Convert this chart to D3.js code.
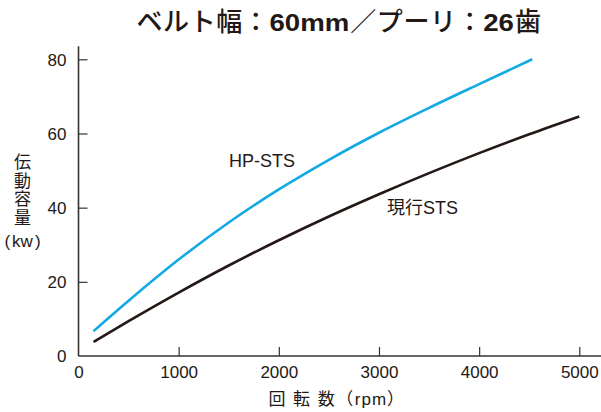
<!DOCTYPE html>
<html>
<head>
<meta charset="utf-8">
<script src="https://cdn.jsdelivr.net/npm/d3@7.9.0/dist/d3.min.js"></script>
<style>
  body { margin: 0; background: #fff; }
  svg { display: block; font-family: "Liberation Sans", Arial, "Noto Sans CJK JP", sans-serif; }
</style>
</head>
<body>
<svg width="601" height="412"></svg>
<script>
// data
const hpRpm = [150, 500, 1000, 1500, 2000, 2500, 3000, 3500, 4000, 4530];
const hpKw = [6.7, 14.9, 26.0, 36.0, 44.9, 52.9, 60.2, 66.9, 73.3, 80.0];
const stsRpm = [150, 500, 1000, 1500, 2000, 2500, 3000, 3500, 4000, 4500, 5000];
const stsKw = [3.8, 9.4, 17.1, 24.4, 31.2, 37.6, 43.6, 49.3, 54.7, 59.8, 64.6];
const xTicks = [0, 1000, 2000, 3000, 4000, 5000];
const yTicks = [0, 20, 40, 60, 80];

const svg = d3.select("svg");
const ink = "#231815";
const axisColor = "#333";

const x = d3.scaleLinear().domain([0, 5000]).range([78.5, 579.3]);
const y = d3.scaleLinear().domain([0, 80]).range([356, 59.3]);

// Title: japanese runs plus slightly widened digits, as in the print
const titleRuns = [
  { t: "ベルト幅：", jp: true },
  { t: "60mm", jp: false },
  { t: "／プーリ：", jp: true },
  { t: "26", jp: false },
  { t: "歯", jp: true },
];
const titleG = svg.append("g");
let cx = 0;
titleRuns.forEach((r) => {
  const sx = r.jp ? 1 : 1.15;
  const t = titleG.append("text")
    .attr("y", 31)
    .attr("fill", ink)
    .attr("font-family", r.jp ? "Noto Sans CJK JP" : "Liberation Sans")
    .attr("font-weight", r.jp ? 500 : "bold")
    .attr("font-size", r.jp ? "26px" : "24px")
    .attr("letter-spacing", r.jp ? "0.6px" : "0px")
    .attr("transform", `scale(${sx},1)`)
    .attr("x", cx / sx)
    .text(r.t);
  cx += t.node().getComputedTextLength() * sx + (r.jp ? 0 : 1);
});
titleG.attr("transform", `translate(${339 - cx / 2},0)`);

// Axes
const xAxis = svg.append("g")
  .attr("transform", `translate(0,${y(0)})`)
  .call(d3.axisBottom(x).tickValues(xTicks).tickFormat(d3.format("d"))
    .tickSize(-9).tickPadding(10).tickSizeOuter(0));
const yAxis = svg.append("g")
  .attr("transform", `translate(${x(0)},0)`)
  .call(d3.axisLeft(y).tickValues(yTicks).tickFormat(d3.format("d"))
    .tickSize(-9).tickPadding(12).tickSizeOuter(0));

[xAxis, yAxis].forEach((g) => {
  g.select(".domain").remove();
  g.selectAll(".tick line").attr("stroke", axisColor).attr("stroke-width", 1.2);
  g.selectAll(".tick text")
    .attr("fill", ink)
    .attr("font-size", "17px")
    .attr("font-family", "Liberation Sans, Arial, sans-serif");
});
// no inner tick at the origin
xAxis.selectAll(".tick").filter((d) => d === 0).select("line").remove();
yAxis.selectAll(".tick").filter((d) => d === 0).select("line").remove();
yAxis.selectAll(".tick text").attr("dy", "0.35em");
xAxis.selectAll(".tick text").attr("dy", "0.71em");

// axis lines (x runs to the right edge, y a little above 80)
svg.append("line")
  .attr("x1", x(0)).attr("x2", 601)
  .attr("y1", y(0)).attr("y2", y(0))
  .attr("stroke", axisColor).attr("stroke-width", 1.6);
svg.append("line")
  .attr("x1", x(0)).attr("x2", x(0))
  .attr("y1", y(0)).attr("y2", y(83.5))
  .attr("stroke", axisColor).attr("stroke-width", 1.6);

// Curves
const line = d3.line()
  .x((d) => x(d[0]))
  .y((d) => y(d[1]))
  .curve(d3.curveMonotoneX);

svg.append("path")
  .datum(stsRpm.map((r, i) => [r, stsKw[i]]))
  .attr("fill", "none")
  .attr("stroke", ink)
  .attr("stroke-width", 2.6)
  .attr("d", line);

svg.append("path")
  .datum(hpRpm.map((r, i) => [r, hpKw[i]]))
  .attr("fill", "none")
  .attr("stroke", "#12a9e5")
  .attr("stroke-width", 2.6)
  .attr("d", line);

// Series labels
svg.append("text")
  .attr("x", 229)
  .attr("y", 167)
  .attr("font-size", "18px")
  .attr("fill", ink)
  .text("HP-STS");

svg.append("text")
  .attr("x", 387)
  .attr("y", 214)
  .attr("font-size", "18px")
  .attr("fill", ink)
  .text("現行STS");

// x axis title
const xTitle = svg.append("text")
  .attr("x", 337)
  .attr("y", 405)
  .attr("text-anchor", "middle")
  .attr("font-size", "17px")
  .attr("letter-spacing", "1.5px")
  .attr("fill", ink);
xTitle.append("tspan").text("回 転 数（");
xTitle.append("tspan").attr("letter-spacing", "1px").text("rpm");
xTitle.append("tspan").text("）");

// y axis title, stacked vertically
const yTitle = ["伝", "動", "容", "量"];
svg.append("g")
  .selectAll("text")
  .data(yTitle)
  .join("text")
  .attr("x", 22.5)
  .attr("y", (d, i) => 168 + i * 18.5)
  .attr("text-anchor", "middle")
  .attr("font-size", "17px")
  .attr("fill", ink)
  .text((d) => d);
const kw = svg.append("text")
  .attr("x", 22.5)
  .attr("y", 247)
  .attr("text-anchor", "middle")
  .attr("font-size", "17px")
  .attr("fill", ink);
kw.append("tspan").attr("font-weight", "300").text("(");
kw.append("tspan").attr("dx", 2).text("kw");
kw.append("tspan").attr("dx", 2).attr("font-weight", "300").text(")");
</script>
</body>
</html>
